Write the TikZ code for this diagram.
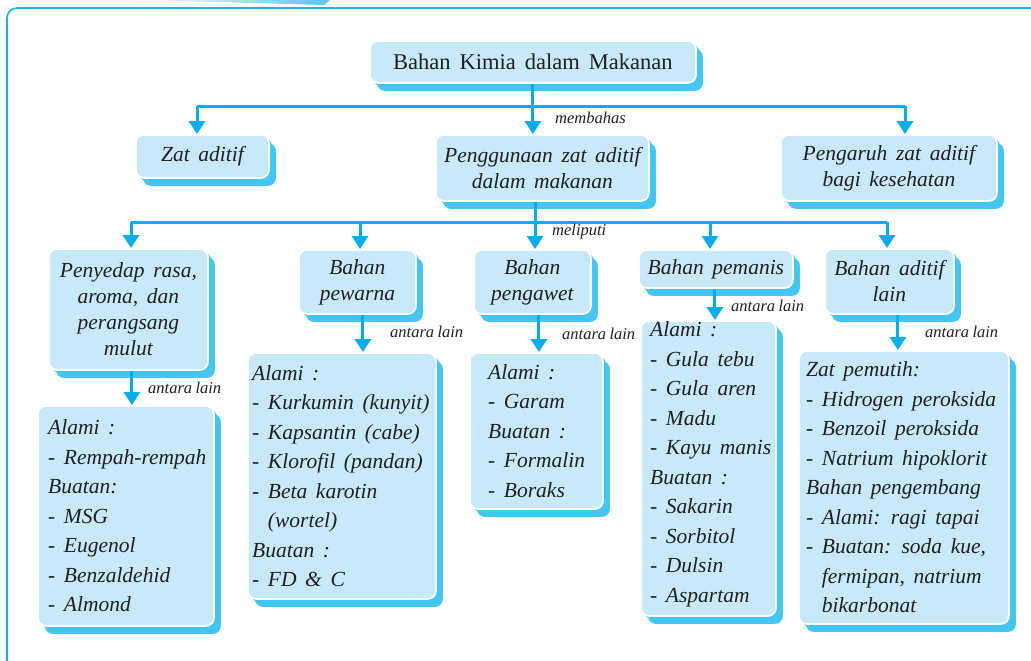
\documentclass[tikz,border=0pt]{standalone}
\usepackage{fontspec}
\setmainfont[WordSpace=1.6]{Liberation Serif}
\newfontfamily\labfont[WordSpace=0.8]{Liberation Serif}
\usetikzlibrary{arrows.meta,shadows}
\definecolor{boxfill}{RGB}{199,233,249}
\definecolor{shadowc}{RGB}{66,199,244}
\definecolor{linec}{RGB}{0,174,239}
\definecolor{framec}{RGB}{30,178,236}
\definecolor{txt}{RGB}{35,31,32}
\tikzset{
  bx/.style={anchor=north west, fill=boxfill, draw=white, line width=1.8pt,
    rounded corners=8pt, inner sep=0pt, align=center, text=txt,
    general shadow={fill=shadowc, shadow xshift=3pt, shadow yshift=-3pt},
    general shadow={fill=shadowc, shadow xshift=7pt, shadow yshift=-8pt}},
  hbox/.style={bx, font=\fontsize{21.5}{26}\selectfont\itshape},
  tbox/.style={bx, font=\fontsize{22.5}{26}\selectfont},
  lbox/.style={bx},
  listtxt/.style={anchor=west, inner sep=0pt, align=left, text=txt,
    font=\fontsize{21.5}{29.5}\selectfont\itshape},
  lab/.style={anchor=west, inner sep=0pt, text=txt,
    font=\labfont\fontsize{16.5}{18}\selectfont\itshape},
  conn/.style={draw=linec, line width=3pt},
  arr/.style={conn, -{Triangle[width=16pt,length=13pt]}},
}
\begin{document}
\begin{tikzpicture}[x=1pt,y=-1pt]
\useasboundingbox (0,0) rectangle (1031,661);
% frame
\shade[left color=white, right color=framec!75] (140,0) -- (330,0) -- (324,5) -- cycle;
\draw[framec, line width=1.6pt, rounded corners=10pt] (1040,8) -- (7,8) -- (7,670);

% level 1
\node[tbox, minimum width=326pt, minimum height=42pt] (top) at (369,40) {Bahan Kimia dalam Makanan};
% level 2
\node[hbox, minimum width=133pt, minimum height=43pt] (zat) at (135,134) {Zat aditif};
\node[hbox, minimum width=213pt, minimum height=66pt] (peng) at (435,134) {Penggunaan zat aditif\\dalam makanan};
\node[hbox, minimum width=216pt, minimum height=66pt] (pgr) at (780,134) {Pengaruh zat aditif\\bagi kesehatan};
% level 3
\node[hbox, minimum width=159pt, minimum height=121pt] (pen) at (48,248) {Penyedap rasa,\\aroma, dan\\perangsang\\mulut};
\node[hbox, minimum width=117pt, minimum height=64pt] (pew) at (298,249) {Bahan\\pewarna};
\node[hbox, minimum width=117pt, minimum height=64pt] (pgw) at (473,249) {Bahan\\pengawet};
\node[hbox, minimum width=154pt, minimum height=38pt] (pms) at (638,249) {Bahan pemanis};
\node[hbox, minimum width=129pt, minimum height=65pt] (adl) at (824,248) {Bahan aditif\\lain};
% level 4
\node[lbox, minimum width=176pt, minimum height=220pt] (l1) at (37,405) {};
\node[lbox, minimum width=188pt, minimum height=246pt] (l2) at (247,352) {};
\node[lbox, minimum width=133pt, minimum height=156pt] (l3) at (469,352) {};
\node[lbox, minimum width=135pt, minimum height=295pt] (l4) at (640,320) {};
\node[lbox, minimum width=210pt, minimum height=273pt] (l5) at (798,350) {};

\node[listtxt] (l1t) at ([xshift=11pt]l1.west) {Alami :\\- Rempah-rempah\\Buatan:\\- MSG\\- Eugenol\\- Benzaldehid\\- Almond};
\node[listtxt] (l2t) at ([xshift=5pt]l2.west) {Alami :\\- Kurkumin (kunyit)\\- Kapsantin (cabe)\\- Klorofil (pandan)\\- Beta karotin\\\hphantom{-~}(wortel)\\Buatan :\\- FD \& C};
\node[listtxt] (l3t) at ([xshift=19pt]l3.west) {Alami :\\- Garam\\Buatan :\\- Formalin\\- Boraks};
\node[listtxt] (l4t) at ([xshift=10pt,yshift=4pt]l4.west) {Alami :\\- Gula tebu\\- Gula aren\\- Madu\\- Kayu manis\\Buatan :\\- Sakarin\\- Sorbitol\\- Dulsin\\- Aspartam};
\node[listtxt] (l5t) at ([xshift=8pt]l5.west) {Zat pemutih:\\- Hidrogen peroksida\\- Benzoil peroksida\\- Natrium hipoklorit\\Bahan pengembang\\- Alami: ragi tapai\\- Buatan: soda kue,\\\hphantom{-~}fermipan, natrium\\\hphantom{-~}bikarbonat};

% connectors level 1 -> 2
\coordinate (ja) at (197,106);
\coordinate (jb) at (905,106);
\draw[conn] (top.south) -- (top.south |- ja);
\draw[conn] (ja) -- (jb);
\draw[arr] (ja) -- (ja |- zat.north);
\draw[arr] (top.south) -- (top.south |- peng.north);
\draw[arr] (jb) -- (jb |- pgr.north);
\node[lab] (mb) at (555,118) {membahas};

% connectors level 2 -> 3
\coordinate (c1) at (131,222);
\coordinate (c2) at (360,222);
\coordinate (c3) at (535,222);
\coordinate (c4) at (710,222);
\coordinate (c5) at (887,222);
\draw[conn] (c3 |- peng.south) -- (c3);
\draw[conn] (c1) -- (c5);
\draw[arr] (c1) -- (c1 |- pen.north);
\draw[arr] (c2) -- (c2 |- pew.north);
\draw[arr] (c3) -- (c3 |- pgw.north);
\draw[arr] (c4) -- (c4 |- pms.north);
\draw[arr] (c5) -- (c5 |- adl.north);
\node[lab] (ml) at (552,232) {meliputi};

% connectors level 3 -> 4
\draw[arr] ([xshift=3.5pt]pen.south) -- ([xshift=3.5pt]pen.south |- l1.north);
\draw[arr] ([xshift=5.5pt]pew.south) -- ([xshift=5.5pt]pew.south |- l2.north);
\draw[arr] ([xshift=6.5pt]pgw.south) -- ([xshift=6.5pt]pgw.south |- l3.north);
\draw[arr] ([xshift=-1pt]pms.south) -- ([xshift=-1pt]pms.south |- l4.north);
\draw[arr] ([xshift=8.5pt]adl.south) -- ([xshift=8.5pt]adl.south |- l5.north);
\node[lab] (a1) at (148,388) {antara lain};
\node[lab] (a2) at (390,332) {antara lain};
\node[lab] (a3) at (562,334) {antara lain};
\node[lab] (a4) at (731,306) {antara lain};
\node[lab] (a5) at (925,332) {antara lain};
\end{tikzpicture}
\end{document}
